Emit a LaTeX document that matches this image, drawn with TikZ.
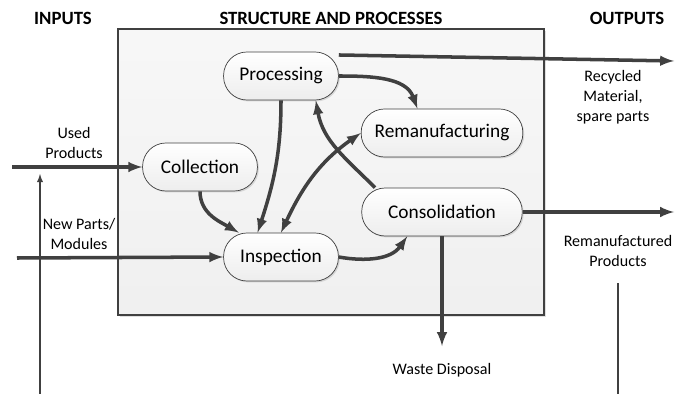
\documentclass[tikz,border=0pt]{standalone}
\usepackage{fontspec}
\setmainfont{Carlito}
\usetikzlibrary{shadows}
\definecolor{linegray}{HTML}{404040}

\begin{document}
\begin{tikzpicture}[x=0.03cm,y=0.03cm,
    proc/.style={draw=linegray, line width=0.6pt, rounded corners=20pt,
      top color=white, bottom color=gray!14, minimum height=41pt,
      font=\fontsize{16.5}{19}\selectfont,
      drop shadow={shadow xshift=1.2pt, shadow yshift=-1.2pt, opacity=0.25}},
    heading/.style={font=\fontsize{16}{19}\selectfont\bfseries},
    lbl/.style={align=center, font=\fontsize{13.7}{17}\selectfont},
    flow/.style={draw=linegray, line width=3pt, -latex},
    thinflow/.style={draw=linegray, line width=1.4pt, -latex}]

  \useasboundingbox (0,0) rectangle (675,-394);

  % structure box
  \draw[draw=linegray, line width=2pt, top color=gray!6, bottom color=gray!12,
    drop shadow={shadow xshift=1.5pt, shadow yshift=-1.5pt, opacity=0.25}]
    (118,-29) rectangle (544,-315);

  \node[heading] (inputs) at (63,-18) {INPUTS};
  \node[heading] (structure) at (331,-18) {STRUCTURE AND PROCESSES};
  \node[heading] (outputs) at (627,-18) {OUTPUTS};

  \node[proc, minimum width=98pt] (processing) at (281,-76) {Processing};
  \node[proc, minimum width=138pt] (reman) at (442,-133) {Remanufacturing};
  \node[proc, minimum width=98pt] (collection) at (200,-167) {Collection};
  \node[proc, minimum width=137pt] (consol) at (442,-212) {Consolidation};
  \node[proc, minimum width=98pt] (inspection) at (281,-257) {Inspection};

  % free ends
  \coordinate (usedin) at (12,-167);
  \coordinate (newin) at (17,-258);
  \coordinate (recout) at (674,-61);
  \coordinate (remout) at (674,-212);
  \coordinate (wasteout) at (442,-346);
  \coordinate (feedbot) at (40,-394);
  \coordinate (feedtop) at (40,-174);
  \coordinate (rightbot) at (618,-394);
  \coordinate (righttop) at (618,-283);

  \node[lbl] (usedlbl) at (74,-143) {Used\\Products};
  \node[lbl] (newlbl) at (79,-234) {New Parts/\\Modules};
  \node[lbl] (reclbl) at (613,-97) {Recycled\\Material,\\spare parts};
  \node[lbl] (remlbl) at (618,-251) {Remanufactured\\Products};
  \node[lbl] (wastelbl) at (442,-370) {Waste Disposal};

  % inputs and outputs
  \draw[flow] (usedin) -- (collection);
  \draw[flow] (newin) -- (inspection.west);
  \draw[flow] (processing.20) -- (recout);
  \draw[flow] (consol) -- (remout);
  \draw[flow] (consol.south) -- (wasteout);
  \draw[thinflow] (feedbot) -- (feedtop);
  \draw[draw=linegray, line width=1.4pt] (rightbot) -- (righttop);

  % inner flows
  \draw[flow] (processing.east) to[out=0,in=110] ([xshift=-21pt]reman.north);
  \draw[flow] (processing.south) to[out=-90,in=72] ([xshift=-20pt]inspection.north);
  \draw[flow] (collection.south) to[out=-90,in=150] (inspection.150);
  \draw[flow, latex-latex] (inspection.north) to[out=65,in=215] (reman.west);
  \draw[flow] (consol.160) to[out=135,in=-80] (processing.-35);
  \draw[flow] (inspection.east) to[out=-10,in=-125] (consol.-145);

\end{tikzpicture}
\end{document}
